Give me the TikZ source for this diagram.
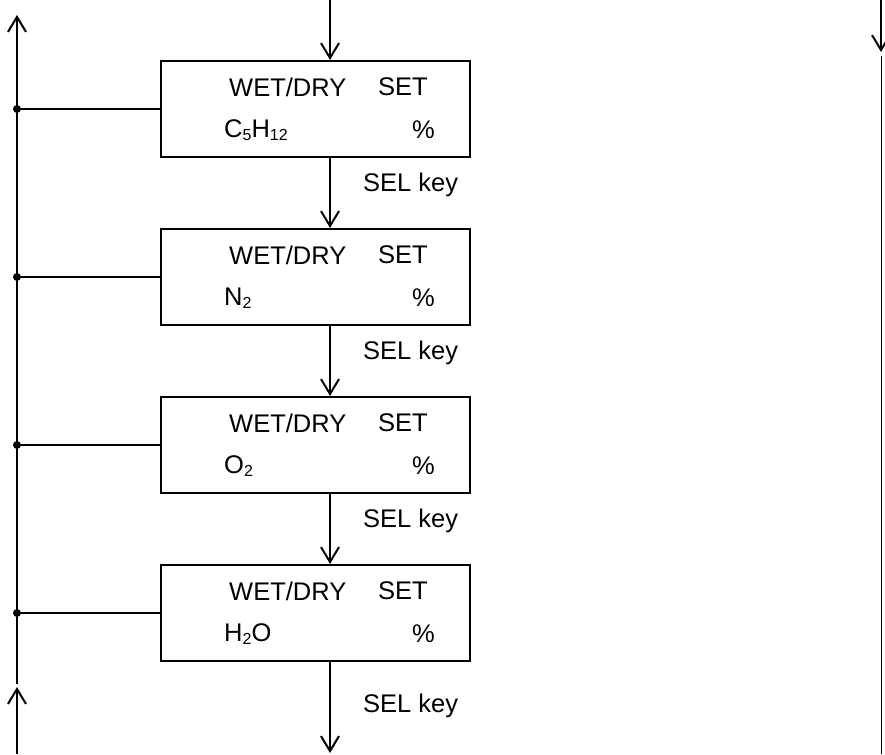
\documentclass[tikz,border=0pt]{standalone}
\usepackage{fontspec}
\setmainfont{Liberation Sans}
\usetikzlibrary{arrows.meta,calc}
\newcommand{\sbs}[1]{\raisebox{-0.12em}{\fontsize{16}{16}\selectfont #1}}
\begin{document}
\begin{tikzpicture}[x=1pt,y=-1pt,
  box/.style={draw,line width=2pt,minimum width=309pt,minimum height=96pt,inner sep=0pt},
  txt/.style={anchor=west,inner sep=0pt,font=\fontsize{25.5}{28}\selectfont},
  arr/.style={line width=2pt,-{Straight Barb[length=15pt,width=18pt,line width=2pt]}},
  ln/.style={line width=2pt},
  dot/.style={circle,fill,inner sep=0pt,minimum size=8pt}]
\useasboundingbox (0,0) rectangle (885,754);
% boxes
\foreach \i/\y/\f in {1/109/{C\sbs{5}H\sbs{12}},2/277/{N\sbs{2}},3/445/{O\sbs{2}},4/613/{H\sbs{2}O}}{
  \node[box] (b\i) at (315.5,\y) {};
  \node[txt] (w\i) at (229,\y-22) {WET/DRY};
  \node[txt] (s\i) at (378,\y-22) {SET};
  \node[txt] (f\i) at (224,\y+21) {\f};
  \node[txt] (p\i) at (412,\y+21) {\%};
  \node[dot] (d\i) at (17,\y) {};
  \draw[ln] (d\i) -- (b\i.west);
}
% SEL key labels
\node[txt] (k1) at (363,185) {SEL key};
\node[txt] (k2) at (363,353) {SEL key};
\node[txt] (k3) at (363,521) {SEL key};
\node[txt] (k4) at (363,706) {SEL key};
% central connectors
\coordinate (top) at (330,0);
\coordinate (bot) at (330,753);
\draw[arr] (top) -- (top |- b1.north);
\draw[arr] (top |- b1.south) -- (top |- b2.north);
\draw[arr] (top |- b2.south) -- (top |- b3.north);
\draw[arr] (top |- b3.south) -- (top |- b4.north);
\draw[arr] (top |- b4.south) -- (bot);
% left return line
\coordinate (La) at (17,15);
\coordinate (Lb) at (17,684);
\coordinate (Lc) at (17,687);
\coordinate (Ld) at (17,754);
\draw[arr] (Lb) -- (La);
\draw[arr] (Ld) -- (Lc);
% right line
\coordinate (Ra) at (881,0);
\coordinate (Rb) at (881,52);
\coordinate (Rc) at (881,56);
\coordinate (Rd) at (881,754);
\draw[arr] (Ra) -- (Rb);
\draw[line width=1pt] (Rc) -- (Rd);
\end{tikzpicture}
\end{document}
